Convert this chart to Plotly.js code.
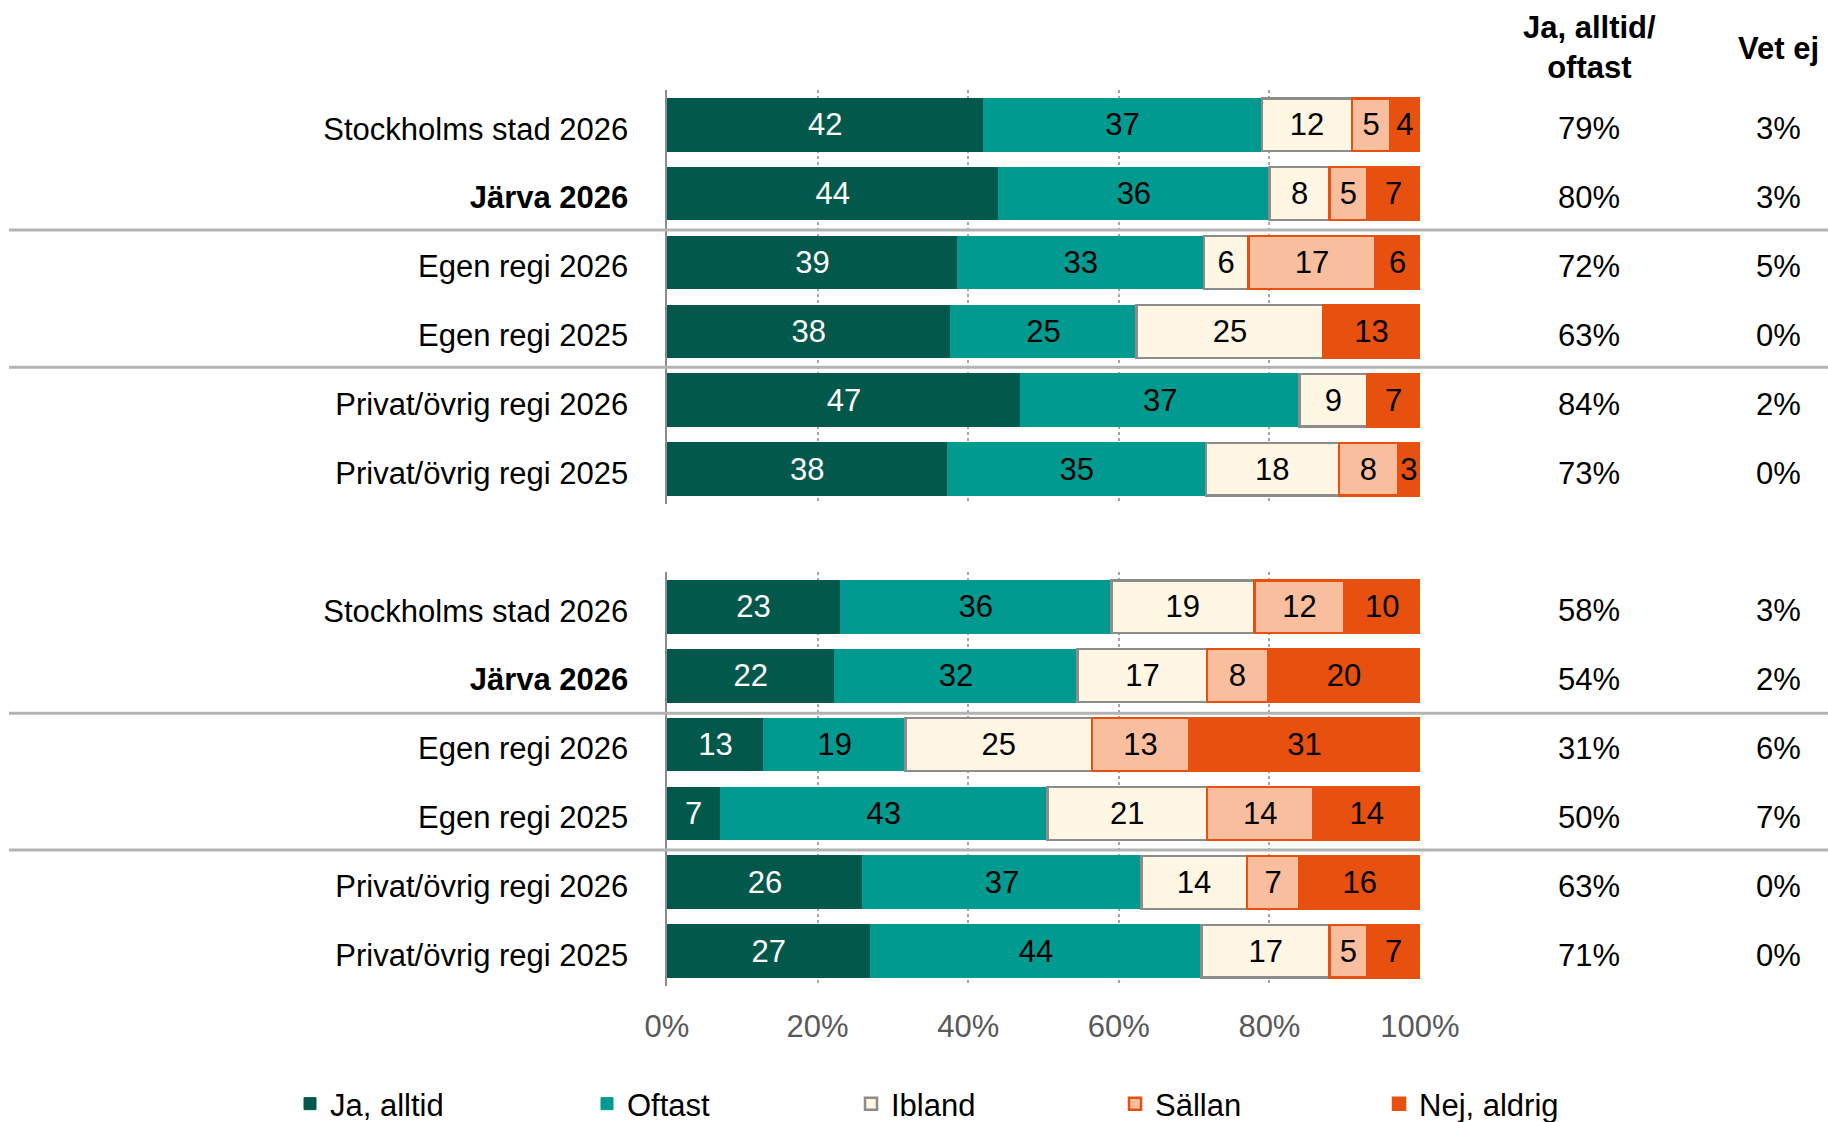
<!DOCTYPE html>
<html><head><meta charset="utf-8">
<script src="https://cdn.plot.ly/plotly-3.0.1.min.js"></script>
<style>html,body{margin:0;padding:0;background:#fff}#chart{width:1828px;height:1122px}</style>
</head><body><div id="chart"></div>
<script>
const categories = ["Stockholms stad 2026","Järva 2026","Egen regi 2026","Egen regi 2025","Privat/övrig regi 2026","Privat/övrig regi 2025"];
const boldCategory = "Järva 2026";
const seriesNames = ["Ja, alltid","Oftast","Ibland","Sällan","Nej, aldrig"];

// Upper chart
const topJa      = [42, 44, 39, 38, 47, 38];
const topOftast  = [37, 36, 33, 25, 37, 35];
const topIbland  = [12,  8,  6, 25,  9, 18];
const topSallan  = [ 5,  5, 17,  0,  0,  8];
const topNej     = [ 4,  7,  6, 13,  7,  3];
const topJaOftast = ["79%","80%","72%","63%","84%","73%"];
const topVetEj    = ["3%","3%","5%","0%","2%","0%"];

// Lower chart
const botJa      = [23, 22, 13,  7, 26, 27];
const botOftast  = [36, 32, 19, 43, 37, 44];
const botIbland  = [19, 17, 25, 21, 14, 17];
const botSallan  = [12,  8, 13, 14,  7,  5];
const botNej     = [10, 20, 31, 14, 16,  7];
const botJaOftast = ["58%","54%","31%","50%","63%","71%"];
const botVetEj    = ["3%","2%","6%","7%","0%","0%"];

const colHeaders = ["<b>Ja, alltid/<br>oftast</b>", "<b>Vet ej</b>"];
const xTickVals = [0, 20, 40, 60, 80, 100];
const xTickText = ["0%","20%","40%","60%","80%","100%"];

const colors     = ["#02584A","#009A90","#FFF6E3","#F8BE9D","#E8500F"];
const lineColors = ["#02584A","#009A90","#8C8C8C","#E8500F","#E8500F"];
const textColors = ["#FFFFFF","#000000","#000000","#000000","#000000"];
const FONT = "Liberation Sans, Arial, sans-serif";
const W = 1828, H = 1122;

function makeTraces(series, xa, ya, showlegend) {
  return series.map((vals, i) => ({
    type: 'bar', orientation: 'h', name: seriesNames[i],
    x: vals.map(v => v === 0 ? null : v), y: categories,
    xaxis: xa, yaxis: ya,
    text: vals.map(v => v > 0 ? String(v) : ''),
    texttemplate: '%{text}', textposition: 'inside', insidetextanchor: 'middle', textangle: 0,
    insidetextfont: {family: FONT, size: 31, color: textColors[i]},
    marker: {color: colors[i], line: {color: lineColors[i], width: i >= 2 ? 2.5 : 1}},
    width: 0.766, showlegend: showlegend, legend: i === 0 ? 'legend' : 'legend2',
    legendgroup: seriesNames[i], hoverinfo: 'skip'
  }));
}

const data = [
  ...makeTraces([topJa, topOftast, topIbland, topSallan, topNej], 'x', 'y', true),
  ...makeTraces([botJa, botOftast, botIbland, botSallan, botNej], 'x2', 'y2', false)
];

const colX = [1589/W, 1778/W];
const annotations = [];
function addCols(ja, vet, yref) {
  categories.forEach((c, i) => {
    annotations.push({xref:'paper', yref: yref, x: colX[0], y: i, text: ja[i], showarrow:false,
      xanchor:'center', yanchor:'middle', yshift:-4, font:{family:FONT, size:31, color:'#000'}});
    annotations.push({xref:'paper', yref: yref, x: colX[1], y: i, text: vet[i], showarrow:false,
      xanchor:'center', yanchor:'middle', yshift:-4, font:{family:FONT, size:31, color:'#000'}});
  });
}
addCols(topJaOftast, topVetEj, 'y');
addCols(botJaOftast, botVetEj, 'y2');
annotations.push({xref:'paper', yref:'paper', x: colX[0], y: 1 - 48/H, text: colHeaders[0], showarrow:false,
  xanchor:'center', yanchor:'middle', font:{family:FONT, size:31, color:'#000'}});
annotations.push({xref:'paper', yref:'paper', x: colX[1], y: 1 - 48.5/H, text: colHeaders[1], showarrow:false,
  xanchor:'center', yanchor:'middle', font:{family:FONT, size:31, color:'#000'}});

const sepLine = {color:'#B3B3B3', width:3};
const sepY = [230, 367.3, 713.3, 850];
const shapes = sepY.map(py => ({type:'line', xref:'paper', yref:'paper', x0: 9/W, x1: 1,
  y0: 1 - py/H, y1: 1 - py/H, line: sepLine, layer:'above'}));

const xDomain = [667/W, 1420/W];
const yTicktext = categories.map(c => c === boldCategory ? '<b>' + c + '</b>' : c);
function xAxis(showLabels, anchor) {
  return {domain: xDomain, range: [0, 100], anchor: anchor, showgrid: true, gridcolor: '#A6A6A6',
    griddash: 'dot', gridwidth: 2, zeroline: false, showline: false, fixedrange: true,
    tickmode: 'array', tickvals: xTickVals, ticktext: xTickText, showticklabels: showLabels,
    ticks: '', tickfont: {family: FONT, size: 31, color: '#595959'}, ticklabelstandoff: 19,
    automargin: false};
}
function yAxis(domain, anchor) {
  return {domain: domain, type: 'category', range: [5.5, -0.5], anchor: anchor,
    tickmode: 'array', tickvals: categories, ticktext: yTicktext, ticks: '',
    showline: true, linecolor: '#8C8C8C', linewidth: 2.5, showgrid: false, zeroline: false,
    tickfont: {family: FONT, size: 31, color: '#000'}, ticklabelstandoff: 30, ticklabelshift: -4,
    fixedrange: true, automargin: false};
}

const legendFont = {family: FONT, size: 31, color: '#000'};
const layout = {
  width: W, height: H, autosize: false,
  margin: {l: 0, r: 0, t: 0, b: 0, pad: 0, autoexpand: false},
  paper_bgcolor: '#fff', plot_bgcolor: 'rgba(0,0,0,0)',
  barmode: 'stack', barnorm: 'percent',
  uniformtext: {mode: 'show', minsize: 31},
  font: {family: FONT, size: 31, color: '#000'},
  xaxis: xAxis(false, 'y'),
  yaxis: yAxis([1 - 503.65/H, 1 - 90.25/H], 'x'),
  xaxis2: xAxis(true, 'y2'),
  yaxis2: yAxis([1 - 985.75/H, 1 - 572.25/H], 'x2'),
  showlegend: true,
  legend: {orientation: 'h', x: 290/W, xanchor: 'left', y: 1 - 1104/H, yanchor: 'middle',
    traceorder: 'normal', font: legendFont, itemclick: false, itemdoubleclick: false},
  legend2: {orientation: 'h', x: 587/W, xanchor: 'left', y: 1 - 1104/H, yanchor: 'middle',
    entrywidth: 219, entrywidthmode: 'pixels', traceorder: 'normal',
    font: legendFont, itemclick: false, itemdoubleclick: false},
  annotations: annotations,
  shapes: shapes
};

Plotly.newPlot('chart', data, layout, {displayModeBar: false, staticPlot: true});
</script></body></html>
